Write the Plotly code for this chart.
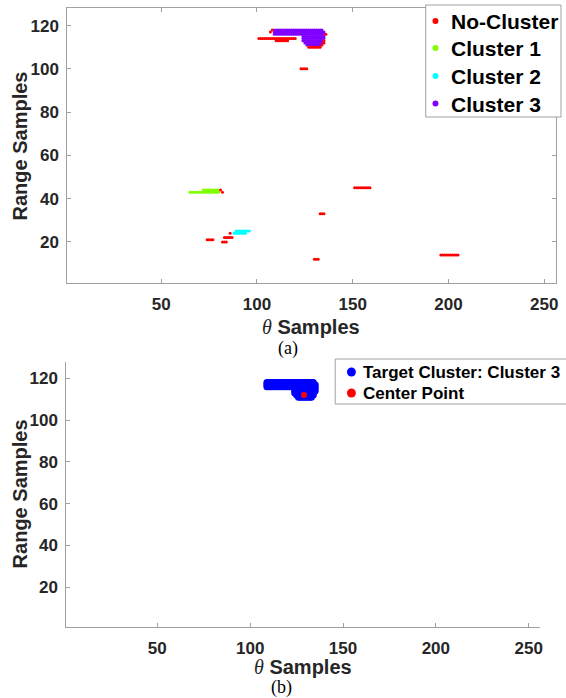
import plotly.graph_objects as go

W, H = 566, 698

# ---------------- data (range-row, theta start, theta end) ----------------
# No-Cluster points (red), run-length rows
noise_y  = [118, 117, 116, 114, 113, 113, 112, 111, 110, 100, 45, 44, 43, 33, 24, 22, 21, 20, 14, 12]
noise_x0 = [108, 107, 136, 101, 110, 135, 135, 134, 127, 123, 151, 81, 82, 133, 86, 83, 74, 82, 196, 130]
noise_x1 = [108, 107, 136, 120, 116, 135, 135, 134, 133, 126, 159, 81, 82, 135, 86, 87, 77, 84, 205, 132]

# Cluster 1 (green)
c1_y  = [44, 43]
c1_x0 = [72, 65]
c1_x1 = [80, 80]

# Cluster 2 (cyan)
c2_y  = [25, 24]
c2_x0 = [89, 88]
c2_x1 = [96, 94]

# Cluster 3 (purple / target cluster)
c3_y  = [118, 117, 116, 115, 114, 113, 112, 111]
c3_x0 = [109, 109, 109, 124, 124, 124, 125, 126]
c3_x1 = [134, 135, 135, 135, 135, 134, 134, 133]

# Center point of the target cluster
center_x = [129]
center_y = [112]

series_names  = ["No-Cluster", "Cluster 1", "Cluster 2", "Cluster 3"]
series_colors = ["#ff0000", "#80ff00", "#00ffff", "#8000ff"]
legend2_names  = ["Target Cluster: Cluster 3", "Center Point"]
legend2_colors = ["#0000ff", "#ff0000"]

x_ticks = [50, 100, 150, 200, 250]
y_ticks = [20, 40, 60, 80, 100, 120]


def expand(ys, x0s, x1s):
    xs_out, ys_out = [], []
    for y, a, b in zip(ys, x0s, x1s):
        for x in range(a, b + 1):
            xs_out.append(x)
            ys_out.append(y)
    return xs_out, ys_out


def px(x):
    return x / W


def py(y):
    return 1 - y / H


fig = go.Figure()

# top panel
groups = [(c1_y, c1_x0, c1_x1), (c2_y, c2_x0, c2_x1), (c3_y, c3_x0, c3_x1), (noise_y, noise_x0, noise_x1)]
colors = [series_colors[1], series_colors[2], series_colors[3], series_colors[0]]
names = [series_names[1], series_names[2], series_names[3], series_names[0]]
for (gy, g0, g1), col, nm in zip(groups, colors, names):
    xs, ys = expand(gy, g0, g1)
    fig.add_trace(go.Scatter(x=xs, y=ys, mode="markers", name=nm, showlegend=False,
                             marker=dict(color=col, size=3, line=dict(width=0)),
                             xaxis="x", yaxis="y"))

# bottom panel
xs, ys = expand(c3_y, c3_x0, c3_x1)
fig.add_trace(go.Scatter(x=xs, y=ys, mode="markers", name=legend2_names[0], showlegend=False,
                         marker=dict(color=legend2_colors[0], size=7, line=dict(width=0)),
                         xaxis="x2", yaxis="y2"))
fig.add_trace(go.Scatter(x=center_x, y=center_y, mode="markers", name=legend2_names[1], showlegend=False,
                         marker=dict(color=legend2_colors[1], size=6, line=dict(width=0)),
                         xaxis="x2", yaxis="y2"))

axcol = "#a0a0a0"
tickfont = dict(family="Liberation Sans, Arial", size=17, color="#262626", weight="bold")
common = dict(showgrid=False, zeroline=False, showline=True, linecolor=axcol, linewidth=1,
              ticks="inside", ticklen=4, tickcolor=axcol, tickfont=tickfont)

fig.update_layout(
    width=W, height=H, margin=dict(l=0, r=0, t=0, b=0),
    paper_bgcolor="white", plot_bgcolor="white", showlegend=False,
    xaxis=dict(domain=[px(67.7), px(558.7)], range=[1, 256], tickvals=x_ticks, anchor="y",
               mirror="ticks", ticklabelstandoff=6, **common),
    yaxis=dict(domain=[py(283), py(8.3)], range=[1, 128], tickvals=y_ticks, anchor="x",
               mirror="ticks", ticklabelstandoff=4, **common),
    xaxis2=dict(domain=[px(66.7), px(542.7)], range=[1, 256], tickvals=x_ticks, anchor="y2",
                ticklabelstandoff=6, **common),
    yaxis2=dict(domain=[py(626.7), py(361.7)], range=[1, 128], tickvals=y_ticks, anchor="x2",
                ticklabelstandoff=4, **common),
)

titlefont = dict(family="Liberation Sans, Arial", size=20, color="#262626", weight="bold")
theta = "<i><span style='font-family:Liberation Serif;font-weight:normal'>θ</span></i> Samples"
ann = [
    dict(text=theta, x=px(313), y=py(327), xref="paper", yref="paper", showarrow=False,
         xanchor="center", yanchor="middle", font=titlefont),
    dict(text=theta, x=px(304.7), y=py(667), xref="paper", yref="paper", showarrow=False,
         xanchor="center", yanchor="middle", font=titlefont),
    dict(text="Range Samples", x=px(20), y=py(145.6), xref="paper", yref="paper", showarrow=False,
         textangle=-90, xanchor="center", yanchor="middle", font=titlefont),
    dict(text="Range Samples", x=px(20.5), y=py(494), xref="paper", yref="paper", showarrow=False,
         textangle=-90, xanchor="center", yanchor="middle", font=titlefont),
    dict(text="(a)", x=px(290), y=py(348), xref="paper", yref="paper", showarrow=False,
         xanchor="center", yanchor="middle", font=dict(family="Liberation Serif", size=18, color="black")),
    dict(text="(b)", x=px(283), y=py(687), xref="paper", yref="paper", showarrow=False,
         xanchor="center", yanchor="middle", font=dict(family="Liberation Serif", size=18, color="black")),
]

shapes = []
# top legend box
shapes.append(dict(type="rect", xref="paper", yref="paper", x0=px(428), x1=px(564), y0=py(117), y1=py(5),
                   line=dict(color=axcol, width=1), fillcolor="white", layer="above"))
leg_y = [21, 48, 76, 103.5]
for nm, col, yy in zip(series_names, series_colors, leg_y):
    shapes.append(dict(type="circle", xref="paper", yref="paper", x0=px(437.8 - 3), x1=px(437.8 + 3),
                       y0=py(yy + 3), y1=py(yy - 3), line=dict(width=0), fillcolor=col, layer="above"))
    ann.append(dict(text=nm, x=px(451.5), y=py(yy + 0.5), xref="paper", yref="paper", showarrow=False,
                    xanchor="left", yanchor="middle",
                    font=dict(family="Liberation Sans, Arial", size=21, color="black", weight="bold")))

# bottom legend box
shapes.append(dict(type="rect", xref="paper", yref="paper", x0=px(337), x1=px(580), y0=py(404), y1=py(359),
                   line=dict(color=axcol, width=1), fillcolor="white", layer="above"))
leg2_y = [372, 393]
for nm, col, yy in zip(legend2_names, legend2_colors, leg2_y):
    shapes.append(dict(type="circle", xref="paper", yref="paper", x0=px(353.3 - 4.5), x1=px(353.3 + 4.5),
                       y0=py(yy + 4.5), y1=py(yy - 4.5), line=dict(width=0), fillcolor=col, layer="above"))
    ann.append(dict(text=nm, x=px(362.5), y=py(yy + 0.5), xref="paper", yref="paper", showarrow=False,
                    xanchor="left", yanchor="middle",
                    font=dict(family="Liberation Sans, Arial", size=17, color="black", weight="bold")))

fig.update_layout(annotations=ann, shapes=shapes)
fig.write_html("out.html", config={"displayModeBar": False},
               post_script="document.body.style.margin='0';document.body.style.overflow='hidden';")
